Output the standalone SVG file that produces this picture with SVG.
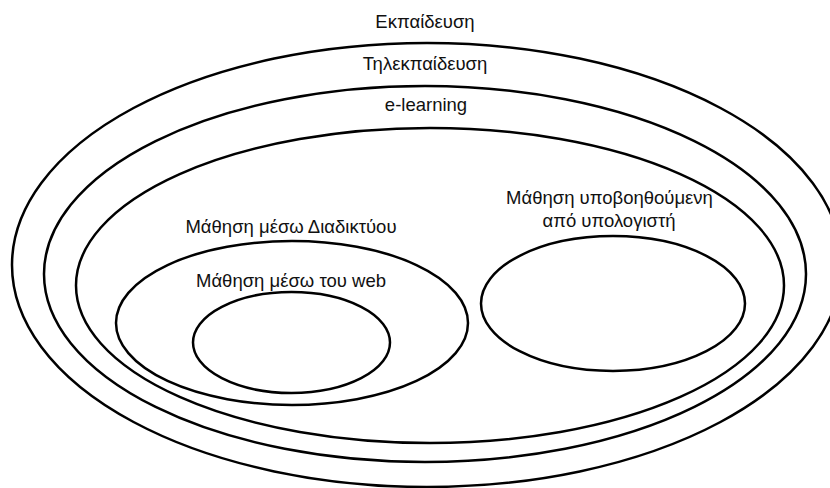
<svg xmlns="http://www.w3.org/2000/svg" width="830" height="488" viewBox="0 0 830 488">
<style>
.e{fill:none;stroke:#000;stroke-width:2.5}
.t{font-family:"Liberation Sans",Arial,sans-serif;font-size:18.5px;fill:#111;text-anchor:middle}
</style>
<rect width="830" height="488" fill="#fff"/>
<g id="ekpaideusi">
<ellipse class="e" cx="427" cy="265" rx="415" ry="222"/>
<text class="t" x="425" y="28">Εκπαίδευση</text>
</g>
<g id="tilekpaideusi">
<ellipse class="e" cx="425" cy="274" rx="381" ry="188"/>
<text class="t" x="425" y="70">Τηλεκπαίδευση</text>
</g>
<g id="elearning">
<ellipse class="e" cx="430" cy="285.5" rx="354" ry="157.5"/>
<text class="t" x="426" y="111">e-learning</text>
</g>
<g id="diadiktyo">
<ellipse class="e" cx="292" cy="323" rx="176" ry="82"/>
<text class="t" x="291" y="233">Μάθηση μέσω Διαδικτύου</text>
</g>
<g id="web">
<ellipse class="e" cx="291.5" cy="342.5" rx="98.5" ry="50.5"/>
<text class="t" x="291" y="287">Μάθηση μέσω του web</text>
</g>
<g id="ypologistis">
<ellipse class="e" cx="613" cy="303.5" rx="132" ry="67.5"/>
<text class="t" x="609.5" y="204">Μάθηση υποβοηθούμενη</text>
<text class="t" x="609" y="227">από υπολογιστή</text>
</g>
<g id="connectors"/>
</svg>
